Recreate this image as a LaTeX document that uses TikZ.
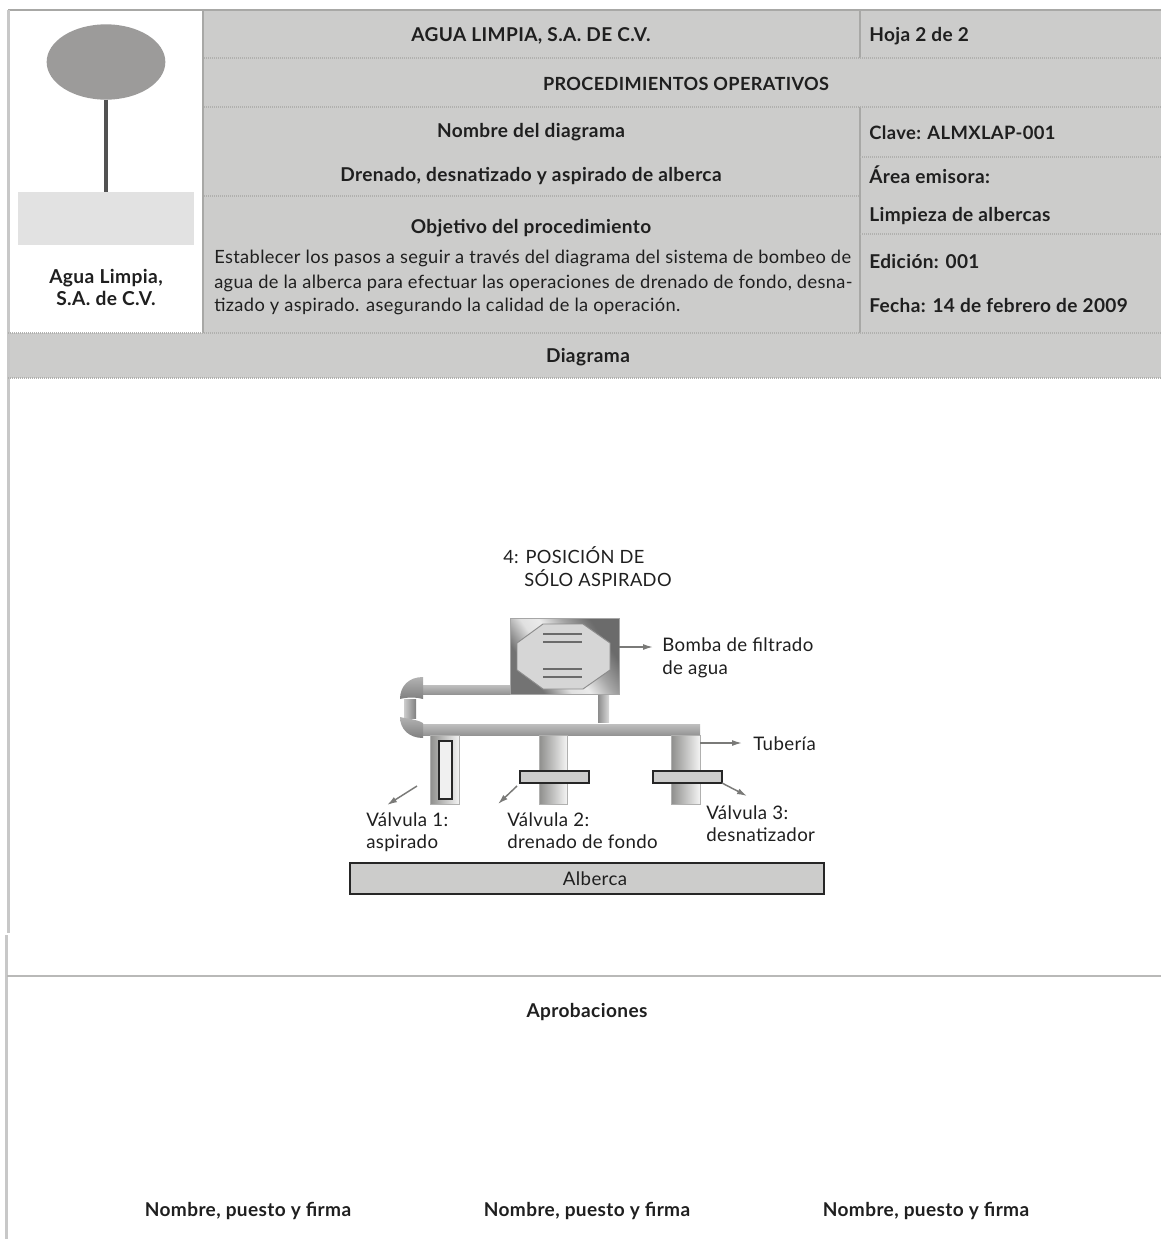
\documentclass[tikz,border=0pt]{standalone}
\usepackage{fontspec}
\setmainfont{Lato}[LetterSpace=2]
\usetikzlibrary{arrows.meta,shapes.geometric}
\definecolor{hdrgray}{HTML}{CCCCCB}
\definecolor{rulegray}{HTML}{A8A8A6}
\definecolor{leftgray}{HTML}{C8C8C8}
\definecolor{dotgray}{HTML}{B0B0AE}
\definecolor{ovalgray}{HTML}{9C9B9A}
\definecolor{pale}{HTML}{E2E2E2}
\definecolor{inkc}{HTML}{1F1F1F}
\definecolor{pipedark}{HTML}{8E8E8C}
\definecolor{arrowc}{HTML}{7A7A78}
\definecolor{octfill}{HTML}{D6D6D6}
\pgfdeclarehorizontalshading{pumpshade}{100bp}{color(0bp)=(black!55); color(30bp)=(black!55); color(42bp)=(black!12); color(50bp)=(black!8); color(60bp)=(black!35); color(72bp)=(black!58); color(100bp)=(black!58)}
\tikzset{
 x=0.75pt,y=-0.75pt,
 box/.style={rectangle,inner sep=0pt,outer sep=0pt},
 hdr/.style={font=\fontsize{14.3}{16}\selectfont\bfseries,text=inkc,inner sep=0pt},
 body/.style={font=\fontsize{13.7}{16}\selectfont,text=inkc,inner sep=0pt},
 lab/.style={font=\fontsize{14}{16}\selectfont,text=inkc,inner sep=0pt,anchor=base west},
 dotrule/.style={dotgray,line width=0.9pt,dash pattern=on 0.75pt off 0.75pt},
 solidrule/.style={rulegray,line width=1.2pt},
 pipeh/.style={box,top color=black!25,middle color=black!8,bottom color=black!42},
 pipev/.style={box,left color=pipedark,right color=white!90!pipedark,draw=pipedark!70,line width=0.4pt},
 stubpipe/.style={box,left color=black!45,right color=black!15},
 linkpipe/.style={box,left color=black!20,middle color=black!10,right color=black!50},
 elbow/.style={top color=black!30,middle color=black!5,bottom color=black!50},
 flange/.style={box,fill=hdrgray,draw=black!85,line width=1.3pt},
 callout/.style={arrowc,line width=1.1pt,-{Latex[length=7.5pt,width=4.5pt]}},
}
\newcommand{\pxbox}[6]{\node[box,#2,minimum width={(#5-#3)*0.75pt},minimum height={(#6-#4)*0.75pt}] (#1) at ({(#3+#5)/2},{(#4+#6)/2}) {};}
\begin{document}
\begin{tikzpicture}
\useasboundingbox (0,0) rectangle (1161,1239);
\fill[white] (0,0) rectangle (1161,1239);
% header fills
\fill[hdrgray] (203,10) rectangle (1161,333);
\fill[hdrgray] (8,333) rectangle (1161,378);
% logo
\node[box,ellipse,fill=ovalgray,minimum width=89pt,minimum height=56.5pt] (oval) at (106,62) {};
\pxbox{plate}{fill=pale}{18}{192}{194}{245}
\draw[black!68,line width=2.4pt] (oval.south) -- (plate.north);
\node[hdr,align=center,font=\fontsize{14.4}{16.5}\selectfont\bfseries,anchor=base] (empresa) at (106,305) {Agua Limpia,\\S.A. de C.V.};
% rules
\draw[solidrule] (8,10) -- (1161,10);
\draw[leftgray,line width=2pt] (8.5,10) -- (8.5,933);
\draw[leftgray,line width=2pt] (6.5,935) -- (6.5,1239);
\draw[solidrule] (203,10) -- (203,333);
\draw[solidrule] (860,10) -- (860,58);
\draw[solidrule] (860,107) -- (860,333);
\draw[dotrule] (204,58) -- (1161,58);
\draw[dotrule] (204,107) -- (1161,107);
\draw[dotrule] (204,196) -- (860,196);
\draw[dotrule] (860,157) -- (1161,157);
\draw[dotrule] (860,234) -- (1161,234);
\draw[dotrule] (8,333) -- (1161,333);
\draw[dotrule] (8,378) -- (1161,378);
\draw[rulegray!80,line width=1pt] (7,976) -- (1161,976);
% header text
\node[hdr,anchor=base] (t1) at (531,41) {AGUA LIMPIA, S.A. DE C.V.};
\node[hdr,anchor=base west] (t2) at (869,41) {Hoja 2 de 2};
\node[hdr,anchor=base,font=\fontsize{13.6}{16}\selectfont\bfseries] (t3) at (686,90) {PROCEDIMIENTOS OPERATIVOS};
\node[hdr,anchor=base] (t4) at (531,137) {Nombre del diagrama};
\node[hdr,anchor=base] (t5) at (531,181) {Drenado, desnatizado y aspirado de alberca};
\node[hdr,anchor=base] (t6) at (531,233) {Objetivo del procedimiento};
\node[body,anchor=base west] (o1) at (214,263) {Establecer los pasos a seguir a través del diagrama del sistema de bombeo de};
\node[body,anchor=base west] (o2) at (214,288) {agua de la alberca para efectuar las operaciones de drenado de fondo, desna-};
\node[body,anchor=base west] (o3) at (214,311) {tizado y aspirado. asegurando la calidad de la operación.};
\node[hdr,anchor=base west,font=\fontsize{13.8}{16}\selectfont\bfseries] (c1) at (869,139) {Clave: ALMXLAP-001};
\node[hdr,anchor=base west] (c2) at (869,183) {Área emisora:};
\node[hdr,anchor=base west] (c3) at (869,221) {Limpieza de albercas};
\node[hdr,anchor=base west] (c4) at (869,268) {Edición: 001};
\node[hdr,anchor=base west] (c5) at (869,312) {Fecha: 14 de febrero de 2009};
\node[hdr,anchor=base] (t7) at (588,362) {Diagrama};
% diagram title
\node[lab,font=\fontsize{13.7}{16}\selectfont] (d1) at (503,563) {4: POSICIÓN DE};
\node[lab,font=\fontsize{13.7}{16}\selectfont] (d2) at (524,586) {SÓLO ASPIRADO};
% pipes
\pxbox{upper}{pipeh}{420}{685}{511}{694}
\pxbox{main}{pipeh}{420}{724}{700}{735}
\pxbox{stub}{stubpipe}{598}{694}{609}{722}
\pxbox{link}{linkpipe}{404}{699}{416}{718}
\pxbox{leg1}{pipev}{430}{735}{459}{804}
\pxbox{leg2}{pipev}{539}{735}{567}{804}
\pxbox{leg3}{pipev}{671}{735}{700}{804}
% elbows
\shade[elbow] (423,677) .. controls (409,677) and (400,686) .. (400,699) .. controls (408,697) and (416,697) .. (423,699) -- cycle;
\shade[elbow] (423,738) .. controls (409,738) and (400,729) .. (400,717) .. controls (408,719) and (416,719) .. (423,723) -- cycle;
% pump
\pxbox{pump}{shading=pumpshade,shading angle=35,draw=black!35,line width=0.5pt}{510}{618}{619}{694}
\fill[octfill,draw=black!45,line width=0.7pt] (543,624) -- (583,624) -- (610,643) -- (610,670) -- (583,689) -- (543,689) -- (517,670) -- (517,643) -- cycle;
\foreach \yy in {634,642,669,677} \draw[black!58,line width=1.1pt] (543,\yy) -- (582,\yy);
% valves
\pxbox{v1}{fill=black!6,draw=black!85,line width=1.3pt}{439}{741}{452}{799}
\pxbox{v2}{flange}{520}{771}{589}{783}
\pxbox{v3}{flange}{653}{771}{722}{783}
\pxbox{pool}{fill=hdrgray,draw=black!85,line width=1.3pt}{350}{863}{824}{894}
\node[lab,anchor=base] (pooltxt) at (595,885) {Alberca};
% labels
\node[lab] (l1) at (662,651) {Bomba de filtrado};
\node[lab] (l1b) at (662,674) {de agua};
\node[lab] (l2) at (753,750) {Tubería};
\node[lab] (l3) at (366,826) {Válvula 1:};
\node[lab] (l3b) at (366,848) {aspirado};
\node[lab] (l4) at (507,826) {Válvula 2:};
\node[lab] (l4b) at (507,848) {drenado de fondo};
\node[lab] (l5) at (706,819) {Válvula 3:};
\node[lab] (l5b) at (706,841) {desnatizador};
% callouts
\coordinate (e1) at (653,647);
\coordinate (e2) at (742,743);
\coordinate (s3) at (417,786);
\coordinate (e3) at (387,805);
\coordinate (e4) at (498,804);
\coordinate (e5) at (747,796);
\draw[callout] (pump.east |- e1) -- (e1);
\draw[callout] (leg3.east |- e2) -- (e2);
\draw[callout] (s3) -- (e3);
\draw[callout] (v2.south west) ++(-3,3) -- (e4);
\draw[callout] (v3.south east) -- (e5);
% approvals
\node[hdr,anchor=base] (a0) at (587,1017) {Aprobaciones};
\node[hdr,anchor=base] (a1) at (248,1216) {Nombre, puesto y firma};
\node[hdr,anchor=base] (a2) at (587,1216) {Nombre, puesto y firma};
\node[hdr,anchor=base] (a3) at (926,1216) {Nombre, puesto y firma};
\end{tikzpicture}
\end{document}
